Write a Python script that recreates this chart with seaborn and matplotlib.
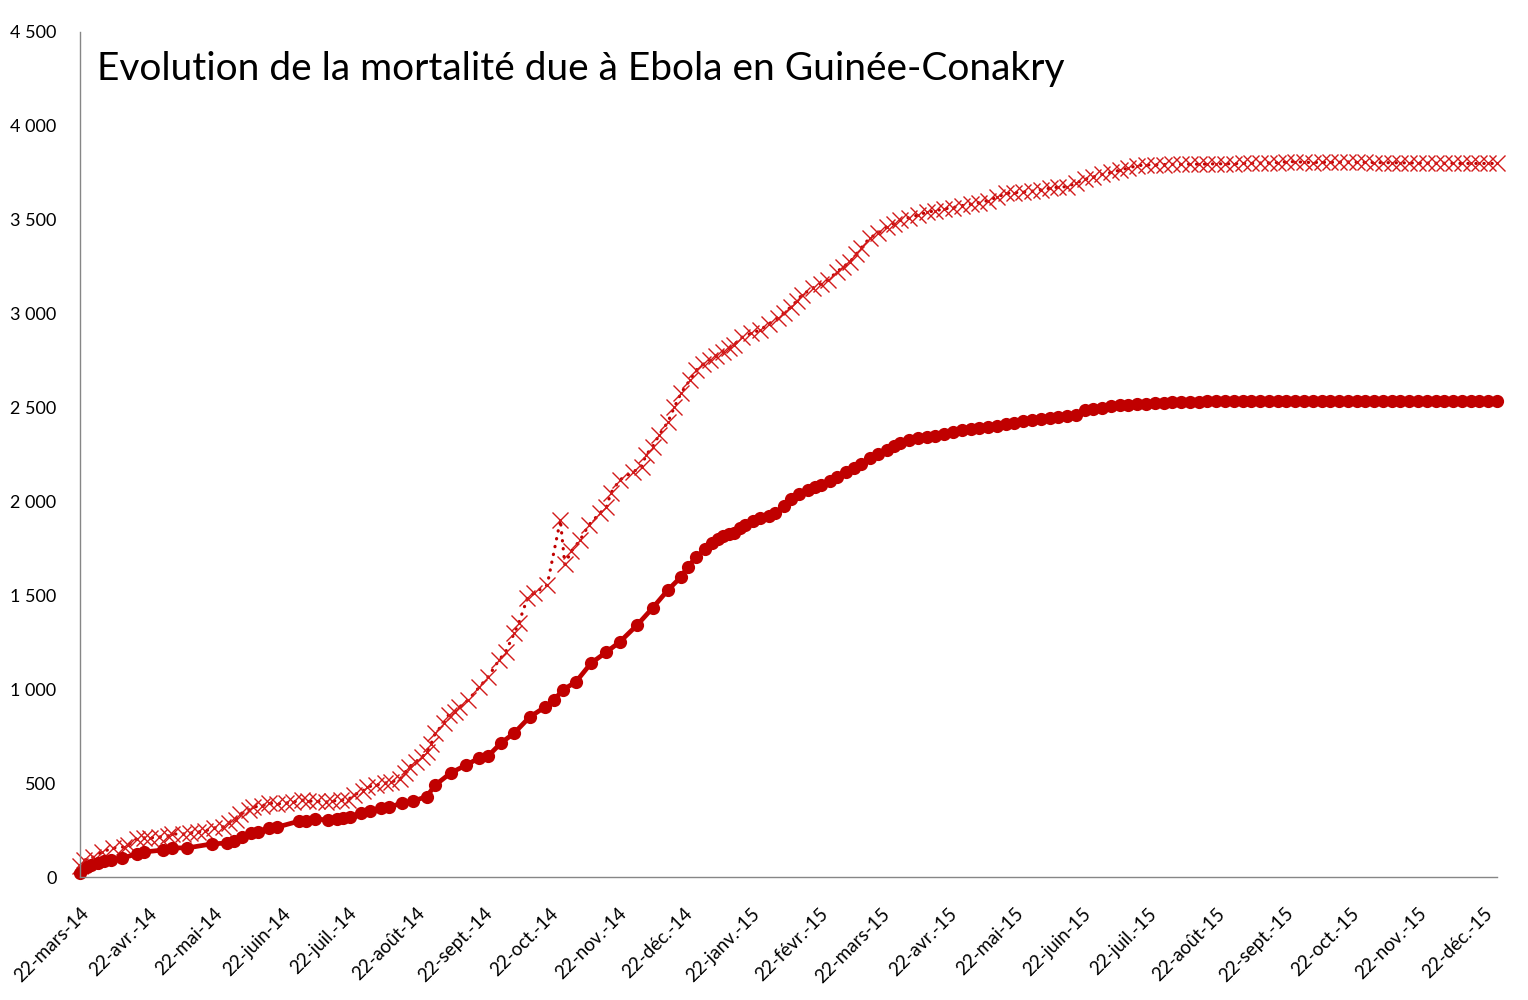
import numpy as np
import pandas as pd
import matplotlib
matplotlib.use("Agg")
import matplotlib.pyplot as plt
from matplotlib.ticker import FuncFormatter
import seaborn as sns

# Jours depuis le 22 mars 2014
debut = pd.Timestamp("2014-03-22")
fin = pd.Timestamp("2015-12-28")

# Décès confirmés (trait plein, ronds)
jours_conf = [0, 3, 5, 8, 11, 14, 19, 26, 29, 38, 42, 49, 60, 67, 70, 74, 78, 81, 86, 90,
              100, 103, 107, 113, 117, 120, 123, 128, 132, 137, 141, 147, 152, 158, 162, 169,
              176, 182, 186, 192, 198, 205, 212, 216, 220, 226, 233, 240, 246, 254, 261, 268,
              274, 277, 281, 285, 288, 291, 293, 296, 298, 301, 303, 307, 310, 314, 317, 321,
              324, 328, 332, 335, 338, 342, 345, 349, 353, 356, 360, 364, 368, 371, 374]
deces_conf = [23, 55, 64, 76, 84, 90, 101, 122, 133, 144, 155, 155, 176, 181, 193, 213, 234, 240, 261, 266,
              298, 300, 309, 304, 309, 314, 320, 341, 352, 367, 373, 394, 405, 428, 490, 554,
              596, 634, 644, 714, 767, 852, 905, 940, 996, 1038, 1139, 1198, 1251, 1342, 1432, 1528,
              1598, 1651, 1704, 1745, 1779, 1800, 1816, 1825, 1832, 1860, 1875, 1895, 1910, 1925, 1938, 1975,
              2015, 2040, 2061, 2075, 2087, 2110, 2130, 2155, 2178, 2200, 2231, 2252, 2274, 2295, 2311]

# Total des décès (pointillés, croix)
jours_tot = [0, 2, 6, 10, 15, 20, 22, 26, 29, 32, 36, 40, 42, 47, 50, 54, 57, 61, 65, 68,
             71, 73, 77, 79, 83, 86, 90, 94, 97, 101, 104, 108, 112, 115, 119, 122, 125, 129,
             131, 135, 139, 142, 146, 148, 150, 153, 156, 158, 160, 162, 166, 168, 171, 173,
             177, 182, 186, 191, 194, 198, 200, 204, 207, 213, 219, 221, 224, 228, 232, 237,
             240, 242, 246, 252, 256, 258, 261, 264, 268, 271, 274, 278, 281, 284, 287, 290,
             293, 296, 298, 302, 306, 310, 314, 318, 321, 324, 327, 329, 334, 338, 341, 345,
             348, 351, 354, 356, 360, 364, 368, 371, 374]
deces_tot = [60, 90, 106, 133, 154, 160, 170, 202, 208, 208, 213, 218, 229, 229, 234, 240, 245, 261, 266, 288,
             304, 336, 357, 373, 378, 394, 389, 394, 399, 410, 404, 404, 399, 404, 410, 410, 437, 458,
             479, 490, 500, 506, 522, 554, 586, 612, 639, 666, 708, 767, 820, 863, 879, 905,
             943, 1011, 1065, 1155, 1198, 1299, 1352, 1485, 1512, 1555, 1901, 1665, 1735, 1795, 1875, 1938,
             1970, 2045, 2114, 2157, 2183, 2247, 2290, 2354, 2423, 2503, 2577, 2646, 2700, 2730, 2753, 2775,
             2796, 2815, 2833, 2876, 2895, 2913, 2945, 2977, 3005, 3035, 3070, 3099, 3136, 3160, 3179, 3222,
             3250, 3275, 3320, 3349, 3403, 3430, 3461, 3480, 3498]

# 2015 : relevés rapprochés, communs aux deux séries
jours_fin = [378, 382, 386, 390, 394, 398, 402, 406, 410, 414, 418, 422, 426, 430, 434, 438, 442,
             446, 450, 454, 458, 462, 466, 470, 474, 478, 482, 486, 490, 494, 498, 502, 506, 510,
             514, 518, 522, 526, 530, 534, 538, 542, 546, 550, 554, 558, 562, 566, 570, 574, 578,
             582, 586, 590, 594, 598, 602, 606, 610, 614, 618, 622, 626, 630, 634, 638, 642, 646]
conf_fin = [2327, 2336, 2341, 2347, 2358, 2370, 2378, 2386, 2391, 2396, 2400, 2410, 2420, 2427, 2434, 2440, 2446,
            2451, 2456, 2462, 2485, 2493, 2500, 2508, 2512, 2515, 2518, 2521, 2524, 2526, 2528, 2530, 2531, 2532,
            2533, 2533, 2533, 2533, 2534, 2534, 2534, 2534, 2534, 2535, 2535, 2535, 2535, 2535, 2536, 2536, 2536,
            2536, 2536, 2536, 2536, 2536, 2536, 2536, 2536, 2536, 2536, 2536, 2536, 2536, 2536, 2536, 2536, 2536]
tot_fin = [3512, 3525, 3540, 3548, 3558, 3565, 3575, 3583, 3592, 3602, 3620, 3640, 3644, 3648, 3652, 3660, 3668,
           3674, 3676, 3695, 3715, 3728, 3742, 3752, 3764, 3776, 3788, 3792, 3793, 3794, 3795, 3795, 3796, 3796,
           3797, 3798, 3798, 3799, 3800, 3801, 3802, 3803, 3805, 3808, 3810, 3806, 3805, 3806, 3806, 3807, 3808,
           3806, 3806, 3805, 3804, 3804, 3803, 3803, 3802, 3802, 3801, 3801, 3801, 3800, 3800, 3800, 3800, 3800]

mois = ["janv.", "févr.", "mars", "avr.", "mai", "juin", "juil.", "août", "sept.", "oct.", "nov.", "déc."]
titre = "Evolution de la mortalité due à Ebola en Guinée-Conakry"

rouge = "#C00000"

df_conf = pd.DataFrame({"date": debut + pd.to_timedelta(jours_conf + jours_fin, unit="D"),
                        "deces": deces_conf + conf_fin})
df_tot = pd.DataFrame({"date": debut + pd.to_timedelta(jours_tot + jours_fin, unit="D"),
                       "deces": deces_tot + tot_fin})

sns.set_style("white")
plt.rcParams["font.family"] = ["Lato", "DejaVu Sans"]

fig = plt.figure(figsize=(15.28, 10), dpi=100)
ax = fig.add_axes([80 / 1528, 123 / 1000, 1417 / 1528, 845 / 1000])

sns.lineplot(data=df_tot, x="date", y="deces", ax=ax, color=rouge, linewidth=2.3,
             linestyle=(0, (0.1, 2.4)), dash_capstyle="round",
             marker="x", markersize=11, markeredgewidth=1.0, markeredgecolor="#D21A1A",
             clip_on=False)
sns.lineplot(data=df_conf, x="date", y="deces", ax=ax, color=rouge, linewidth=3.4,
             marker="o", markersize=9.5, markeredgewidth=0, clip_on=False)

ax.set_xlim(debut, fin)
ax.set_ylim(0, 4500)
ax.set_yticks(np.arange(0, 4501, 500))
ax.yaxis.set_major_formatter(FuncFormatter(lambda v, p: f"{int(v):,}".replace(",", " ")))

ticks = pd.date_range("2014-03-01", "2015-12-01", freq="MS") + pd.Timedelta(days=21)
ax.set_xticks(ticks)
ax.set_xticklabels([f"22-{mois[t.month - 1]}-{t.strftime('%y')}" for t in ticks],
                   rotation=45, ha="right", rotation_mode="anchor", fontsize=13.5)
ax.tick_params(axis="x", length=5, width=1, color="#868686", pad=15, direction="out",
               labelcolor="black")
ax.tick_params(axis="y", length=5, width=1, color="#868686", pad=12, direction="out",
               labelsize=13, labelcolor="black")
ax.set_xlabel("")
ax.set_ylabel("")

for s in ["top", "right"]:
    ax.spines[s].set_visible(False)
for s in ["left", "bottom"]:
    ax.spines[s].set_color("#868686")
    ax.spines[s].set_linewidth(1)

fig.text(97 / 1528, 1 - 80 / 1000, titre, fontsize=28, ha="left", va="baseline", color="black")

fig.savefig("out.png", dpi=100)
